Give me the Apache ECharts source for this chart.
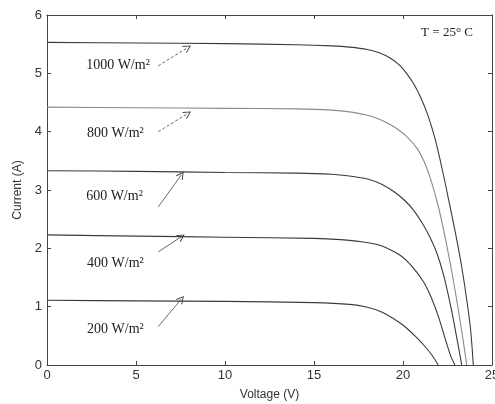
<!DOCTYPE html>
<html>
<head>
<meta charset="utf-8">
<script src="https://cdn.jsdelivr.net/npm/echarts@6/dist/echarts.min.js"></script>
<style>
  html, body { margin: 0; padding: 0; background: #fff; }
  #chart { width: 495px; height: 404px; }
</style>
</head>
<body>
<div id="chart"></div>
<script>
// I-V characteristics of a PV module at T = 25 °C for five irradiance levels
const irradiance = ['1000', '800', '600', '400', '200'];

const volt1000 = [0, 5, 10, 14, 16, 17, 18, 18.7, 19.3, 19.8, 20.2, 20.6, 21.0, 21.4, 21.8, 22.2, 22.6, 23.0, 23.3, 23.6, 23.8, 23.95];
const amp1000  = [5.53, 5.52, 5.51, 5.49, 5.47, 5.45, 5.41, 5.35, 5.26, 5.14, 5.00, 4.82, 4.58, 4.28, 3.88, 3.36, 2.78, 2.18, 1.68, 1.08, 0.60, 0];

const volt800 = [0, 5, 10, 14, 16, 17, 18, 18.7, 19.3, 19.8, 20.3, 20.8, 21.2, 21.6, 22.0, 22.4, 22.8, 23.1, 23.35, 23.58];
const amp800  = [4.42, 4.41, 4.40, 4.39, 4.37, 4.34, 4.28, 4.21, 4.12, 4.02, 3.89, 3.71, 3.48, 3.14, 2.70, 2.14, 1.50, 0.96, 0.48, 0];

const volt600 = [0, 5, 10, 14, 16, 17, 18, 18.8, 19.5, 20.1, 20.6, 21.1, 21.5, 21.9, 22.3, 22.7, 23.0, 23.3];
const amp600  = [3.33, 3.32, 3.30, 3.29, 3.27, 3.24, 3.19, 3.10, 2.97, 2.82, 2.65, 2.42, 2.20, 1.92, 1.52, 0.98, 0.50, 0];

const volt400 = [0, 5, 10, 15, 16.5, 17.5, 18.5, 19.2, 19.8, 20.3, 20.8, 21.2, 21.6, 22.0, 22.4, 22.7, 22.92];
const amp400  = [2.23, 2.21, 2.19, 2.17, 2.15, 2.12, 2.07, 1.99, 1.89, 1.76, 1.58, 1.40, 1.15, 0.82, 0.42, 0.14, 0];

const volt200 = [0, 5, 10, 15, 17.0, 18.0, 18.8, 19.5, 20.1, 20.7, 21.2, 21.6, 21.98];
const amp200  = [1.11, 1.10, 1.09, 1.07, 1.04, 0.99, 0.91, 0.79, 0.66, 0.49, 0.33, 0.18, 0];

// label anchors [V, I] and arrow start/end [V, I]
const labelAt    = [[2.2, 5.14], [2.25, 3.97], [2.2, 2.89], [2.25, 1.74], [2.25, 0.61]];
const arrowFrom  = [[6.25, 5.13], [6.25, 4.00], [6.25, 2.71], [6.25, 1.94], [6.25, 0.66]];
const arrowTo    = [[7.9, 5.44], [7.9, 4.31], [7.55, 3.26], [7.55, 2.20], [7.55, 1.13]];

const xTicks = { min: 0, max: 25, interval: 5 };
const yTicks = { min: 0, max: 6, interval: 1 };

const curves = [
  [volt1000, amp1000], [volt800, amp800], [volt600, amp600], [volt400, amp400], [volt200, amp200]
];
const lineColors = ['#3a3a3a', '#8a8a8a', '#3a3a3a', '#3a3a3a', '#3a3a3a'];
const dashedArrow = [true, true, false, false, false];

const axisColor = '#444';
const sans = 'Liberation Sans';
const serif = 'Liberation Serif';
// open arrow head (thin chevron pointing up, rotated along the shaft)
const chevron = 'path://M5,0 L10,10 L9,10.8 L5,2.6 L1,10.8 L0,10 Z';

function pairs(v, a) { return v.map((x, i) => [x, a[i]]); }

const series = curves.map((c, k) => ({
  type: 'line',
  xAxisIndex: 0,
  yAxisIndex: 0,
  data: pairs(c[0], c[1]),
  showSymbol: false,
  smooth: 0.3,
  lineStyle: { color: lineColors[k], width: 1.1 },
  silent: true,
  markLine: {
    silent: true,
    symbol: ['none', chevron],
    symbolSize: 8,
    lineStyle: { color: '#444', width: 0.8, type: dashedArrow[k] ? [3, 2] : 'solid' },
    label: { show: false },
    data: [[{ coord: arrowFrom[k] }, { coord: arrowTo[k] }]]
  },
  markPoint: {
    silent: true,
    symbol: 'circle',
    symbolSize: 0,
    data: [{ coord: labelAt[k] }],
    label: {
      show: true,
      position: 'right',
      distance: 0,
      formatter: irradiance[k] + ' W/m\u00B2',
      fontFamily: serif,
      fontSize: 14,
      color: '#222'
    }
  }
}));

const chart = echarts.init(document.getElementById('chart'), null, { renderer: 'canvas' });
chart.setOption({
  animation: false,
  backgroundColor: '#fff',
  grid: { left: 47, right: 3, top: 15, bottom: 39, containLabel: false, outerBoundsMode: 'none' },
  xAxis: [
    {
      type: 'value', position: 'bottom', ...xTicks,
      name: 'Voltage (V)', nameLocation: 'middle', nameGap: 24,
      nameTextStyle: { fontFamily: sans, fontSize: 12, color: '#333' },
      axisLine: { show: true, onZero: false, lineStyle: { color: axisColor, width: 1 } },
      axisTick: { show: true, inside: true, length: 4, lineStyle: { color: axisColor } },
      axisLabel: { fontFamily: sans, fontSize: 13, color: '#333', margin: 4, showMaxLabel: true },
      splitLine: { show: false }
    },
    {
      type: 'value', position: 'top', ...xTicks,
      axisLine: { show: true, onZero: false, lineStyle: { color: axisColor, width: 1 } },
      axisTick: { show: true, inside: true, length: 4, lineStyle: { color: axisColor } },
      axisLabel: { show: false },
      splitLine: { show: false }
    }
  ],
  yAxis: [
    {
      type: 'value', position: 'left', ...yTicks,
      name: 'Current (A)', nameLocation: 'middle', nameGap: 15,
      nameTextStyle: { fontFamily: sans, fontSize: 12, color: '#333' },
      axisLine: { show: true, onZero: false, lineStyle: { color: axisColor, width: 1 } },
      axisTick: { show: true, inside: true, length: 4, lineStyle: { color: axisColor } },
      axisLabel: { fontFamily: sans, fontSize: 13, color: '#333', margin: 5 },
      splitLine: { show: false }
    },
    {
      type: 'value', position: 'right', ...yTicks,
      axisLine: { show: true, onZero: false, lineStyle: { color: axisColor, width: 1 } },
      axisTick: { show: true, inside: true, length: 4, lineStyle: { color: axisColor } },
      axisLabel: { show: false },
      splitLine: { show: false }
    }
  ],
  graphic: [
    {
      type: 'text',
      right: 22,
      top: 26,
      style: { text: 'T = 25\u00B0 C', font: '13px "Liberation Serif"', fill: '#222' }
    }
  ],
  series: series
});
</script>
</body>
</html>
